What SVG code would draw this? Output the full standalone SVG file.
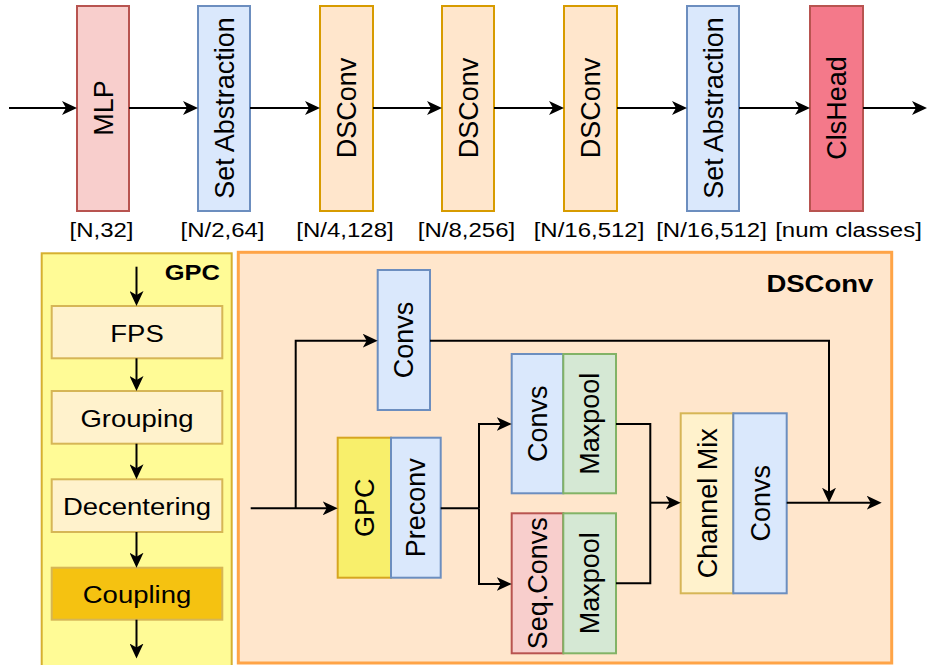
<svg xmlns="http://www.w3.org/2000/svg" width="932" height="665" viewBox="0 0 932 665">
  <style>
    text { font-family: "Liberation Sans", Arial, Helvetica, sans-serif; fill: #000; }
    .v { font-size: 27px; text-anchor: middle; }
    .h { font-size: 27.5px; text-anchor: middle; }
    .lbl { font-size: 24px; text-anchor: middle; }
    .ttl { font-weight: bold; text-anchor: end; }
    .box { stroke-width: 2; }
    .red { fill: #f8cecc; stroke: #b85450; }
    .blue { fill: #dae8fc; stroke: #6c8ebf; }
    .orange { fill: #ffe6cc; stroke: #d79b00; }
    .green { fill: #d5e8d4; stroke: #82b366; }
    .cream { fill: #fff2cc; stroke: #d6b656; }
    .head { fill: #f4798a; stroke: #b85450; }
    .gold { fill: #f5c211; stroke: #d6b656; }
    .yel { fill: #f8ef6b; stroke: #d6a520; }
    .wire { fill: none; stroke: #000; stroke-width: 2; }
    .arr { marker-end: url(#tip); }
  </style>
  <defs>
    <marker id="tip" viewBox="0 0 15 14" markerWidth="15" markerHeight="14" refX="11" refY="7" orient="auto" markerUnits="userSpaceOnUse">
      <path d="M0,0 L15,7 L0,14 L4,7 Z" fill="#000"/>
    </marker>
  </defs>

  <!-- backbone pipeline -->
  <g id="mlp"><rect class="box red" x="77" y="6" width="52" height="205"/>
    <text class="v" transform="translate(103,108) rotate(-90)" y="9.5">MLP</text></g>
  <g id="sa1"><rect class="box blue" x="198" y="6" width="52" height="205"/>
    <text class="v" transform="translate(224,108) rotate(-90)" y="9.5">Set Abstraction</text></g>
  <g id="dsconv1"><rect class="box orange" x="320" y="6" width="53" height="205"/>
    <text class="v" transform="translate(346.5,108) rotate(-90)" y="9.5">DSConv</text></g>
  <g id="dsconv2"><rect class="box orange" x="442" y="6" width="52" height="205"/>
    <text class="v" transform="translate(468,108) rotate(-90)" y="9.5">DSConv</text></g>
  <g id="dsconv3"><rect class="box orange" x="564" y="6" width="53" height="205"/>
    <text class="v" transform="translate(590.5,108) rotate(-90)" y="9.5">DSConv</text></g>
  <g id="sa2"><rect class="box blue" x="687" y="6" width="52" height="205"/>
    <text class="v" transform="translate(713,108) rotate(-90)" y="9.5">Set Abstraction</text></g>
  <g id="clshead"><rect class="box head" x="810" y="6" width="53" height="205"/>
    <text class="v" transform="translate(836.5,108) rotate(-90)" y="9.5">ClsHead</text></g>

  <!-- shape labels -->
  <g id="shapes">
    <text class="lbl" transform="translate(101.5,237) scale(1,0.88)">[N,32]</text>
    <text class="lbl" transform="translate(222.5,237) scale(1,0.88)">[N/2,64]</text>
    <text class="lbl" transform="translate(345,237) scale(1,0.88)">[N/4,128]</text>
    <text class="lbl" transform="translate(466.5,237) scale(1,0.88)">[N/8,256]</text>
    <text class="lbl" transform="translate(589,237) scale(1,0.88)">[N/16,512]</text>
    <text class="lbl" transform="translate(711.5,237) scale(1,0.88)">[N/16,512]</text>
    <text class="lbl" transform="translate(848.5,237) scale(1,0.88)">[num classes]</text>
  </g>

  <!-- GPC detail panel -->
  <g id="gpc-panel">
    <rect x="41.7" y="253.3" width="190" height="420" fill="#fffb96" stroke="#d6b030" stroke-width="2"/>
    <text class="ttl" font-size="25.5" transform="translate(220,280) scale(1,0.88)">GPC</text>
  </g>
  <g id="fps"><rect class="box cream" x="51.7" y="306" width="170.6" height="52.3"/>
    <text class="h" transform="translate(137,341.7) scale(1,0.88)">FPS</text></g>
  <g id="grouping"><rect class="box cream" x="51.7" y="391" width="170.6" height="52.7"/>
    <text class="h" transform="translate(137,427) scale(1,0.88)">Grouping</text></g>
  <g id="decentering"><rect class="box cream" x="51.7" y="479.3" width="170.6" height="52.7"/>
    <text class="h" transform="translate(137,515.4) scale(1,0.88)">Decentering</text></g>
  <g id="coupling"><rect class="box gold" x="51.7" y="567.7" width="170.6" height="52"/>
    <text class="h" transform="translate(137,603.4) scale(1,0.88)">Coupling</text></g>

  <!-- DSConv detail panel -->
  <g id="dsconv-panel">
    <rect x="238.3" y="252.3" width="653.4" height="410.7" fill="#ffe6cc" stroke="#ffa447" stroke-width="3"/>
    <text class="ttl" font-size="27.5" transform="translate(873.3,291.7) scale(1,0.88)">DSConv</text>
  </g>
  <g id="convs-skip"><rect class="box blue" x="377.7" y="270" width="52.3" height="140"/>
    <text class="v" transform="translate(403.8,340) rotate(-90)" y="9.5">Convs</text></g>
  <g id="gpc-block"><rect class="box yel" x="337.7" y="437.7" width="53.3" height="140"/>
    <text class="v" transform="translate(364.3,507.7) rotate(-90)" y="9.5">GPC</text></g>
  <g id="preconv"><rect class="box blue" x="391" y="437.7" width="49.7" height="140"/>
    <text class="v" transform="translate(415.8,507.7) rotate(-90)" y="9.5">Preconv</text></g>
  <g id="convs-a"><rect class="box blue" x="511.7" y="354" width="51.6" height="139.3"/>
    <text class="v" transform="translate(537.5,423.7) rotate(-90)" y="9.5">Convs</text></g>
  <g id="maxpool-a"><rect class="box green" x="563.3" y="354" width="52.7" height="139.3"/>
    <text class="v" transform="translate(589.7,423.7) rotate(-90)" y="9.5">Maxpool</text></g>
  <g id="seqconvs"><rect class="box red" x="511.7" y="513.3" width="51.6" height="140"/>
    <text class="v" transform="translate(537.5,583.3) rotate(-90)" y="9.5">Seq.Convs</text></g>
  <g id="maxpool-b"><rect class="box green" x="563.3" y="513.3" width="52.7" height="140"/>
    <text class="v" transform="translate(589.7,583.3) rotate(-90)" y="9.5">Maxpool</text></g>
  <g id="channelmix"><rect class="box cream" x="680.7" y="413.3" width="52.6" height="180"/>
    <text class="v" transform="translate(707,503.3) rotate(-90)" y="9.5">Channel Mix</text></g>
  <g id="convs-out"><rect class="box blue" x="733.3" y="413.3" width="53.4" height="180"/>
    <text class="v" transform="translate(760,503.3) rotate(-90)" y="9.5">Convs</text></g>

  <!-- connectors -->
  <g id="connectors">
    <path class="wire arr" d="M9,108 H73"/>
    <path class="wire arr" d="M129,108 H194"/>
    <path class="wire arr" d="M250,108 H316"/>
    <path class="wire arr" d="M373,108 H438"/>
    <path class="wire arr" d="M494,108 H560"/>
    <path class="wire arr" d="M617,108 H683"/>
    <path class="wire arr" d="M739,108 H806"/>
    <path class="wire arr" d="M863,108 H923"/>

    <path class="wire arr" d="M136.5,266.7 V302"/>
    <path class="wire arr" d="M136.5,358.3 V387"/>
    <path class="wire arr" d="M136.5,443.7 V475.3"/>
    <path class="wire arr" d="M136.5,532 V563.7"/>
    <path class="wire arr" d="M136.5,619.7 V654.5"/>

    <path class="wire arr" d="M250.7,508.3 H333.7"/>
    <path class="wire arr" d="M295.7,508.3 V340.7 H373.7"/>
    <path class="wire arr" d="M430,340.7 H829 V498.7"/>
    <path class="wire" d="M440.7,508.3 H479"/>
    <path class="wire arr" d="M479,508.3 V424 H507.7"/>
    <path class="wire arr" d="M479,508.3 V584 H507.7"/>
    <path class="wire" d="M616,424 H650.3 V583.3 H616"/>
    <path class="wire arr" d="M650.3,502.7 H676.7"/>
    <path class="wire arr" d="M786.7,502.7 H877.7"/>
  </g>
</svg>
